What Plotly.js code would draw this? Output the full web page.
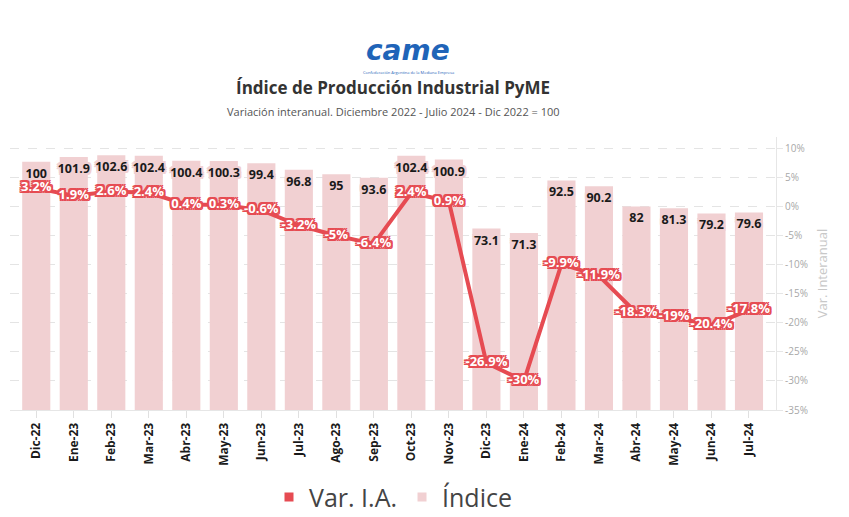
<!DOCTYPE html>
<html>
<head>
<meta charset="utf-8">
<script src="https://cdn.plot.ly/plotly-3.0.1.min.js"></script>
<style>html,body{margin:0;padding:0;background:#fff;}#chart{width:849px;height:517px;}</style>
</head>
<body>
<div id="chart"></div>
<script>
const months = ["Dic-22","Ene-23","Feb-23","Mar-23","Abr-23","May-23","Jun-23","Jul-23","Ago-23","Sep-23","Oct-23","Nov-23","Dic-23","Ene-24","Feb-24","Mar-24","Abr-24","May-24","Jun-24","Jul-24"];
const indice = [100,101.9,102.6,102.4,100.4,100.3,99.4,96.8,95,93.6,102.4,100.9,73.1,71.3,92.5,90.2,82,81.3,79.2,79.6];
const varIA = [3.2,1.9,2.6,2.4,0.4,0.3,-0.6,-3.2,-5,-6.4,2.4,0.9,-26.9,-30,-9.9,-11.9,-18.3,-19,-20.4,-17.8];
const rightTicks = [10,5,0,-5,-10,-15,-20,-25,-30,-35];
const rightTickText = ["10%","5%","0%","-5%","-10%","-15%","-20%","-25%","-30%","-35%"];

const RED = '#e64b52';
const PINK = '#f1d0d2';
const sh = (c,w) => `-${w}px -${w}px 0 ${c}, ${w}px -${w}px 0 ${c}, -${w}px ${w}px 0 ${c}, ${w}px ${w}px 0 ${c}, 0 ${w}px 0 ${c}, 0 -${w}px 0 ${c}, ${w}px 0 0 ${c}, -${w}px 0 0 ${c}`;

const traces = [
  {type:'bar', x:months, y:indice, name:'Índice', marker:{color:PINK}, yaxis:'y', hoverinfo:'skip', showlegend:false,
   text:indice.map(v=>String(v)), textposition:'inside', insidetextanchor:'end', constraintext:'none', cliponaxis:false,
   textangle:0,
   insidetextfont:{family:'Open Sans, sans-serif', size:12.5, color:'#1a1a1a', weight:700, shadow:sh(PINK,2)}},
  {type:'scatter', mode:'lines+text', x:months, y:varIA, name:'Var. I.A.', yaxis:'y2', line:{color:RED, width:4},
   text:varIA.map(v=>v+'%'), textposition:'middle center',
   textfont:{family:'Open Sans, sans-serif', size:13, color:'#ffffff', weight:700, shadow:sh(RED,2)}, showlegend:false, cliponaxis:false},
  {type:'scatter', mode:'markers', x:[null], y:[null], name:'Var. I.A.', yaxis:'y2', marker:{symbol:'square', color:RED, size:9}},
  {type:'scatter', mode:'markers', x:[null], y:[null], name:'Índice', yaxis:'y2', marker:{symbol:'square', color:PINK, size:9}}
];

const layout = {
  width:849, height:517,
  margin:{l:10, r:73, t:137, b:107, autoexpand:false},
  paper_bgcolor:'#ffffff', plot_bgcolor:'#ffffff',
  font:{family:'Open Sans, sans-serif'},
  bargap:0.25,
  xaxis:{type:'category', range:[-0.7,19.72], tickangle:-90, tickfont:{size:12, color:'#1a1a1a', weight:700}, automargin:false,
    showline:true, linecolor:'#e6e6e6', ticks:'outside', ticklen:7, tickcolor:'#e0e0e0', showgrid:false, fixedrange:true},
  yaxis:{range:[0,110], visible:false, showgrid:false, zeroline:false},
  yaxis2:{overlaying:'y', side:'right', range:[-35,12], tickvals:rightTicks, ticktext:rightTickText, automargin:false,
    tickfont:{size:10, color:'#a8a8a8'}, showgrid:true, gridcolor:'#e4e4e4', griddash:'dash', zeroline:false,
    showline:true, linecolor:'#e6e6e6', ticks:'outside', ticklen:6, tickcolor:'#e6e6e6',
    title:{text:'Var. Interanual', font:{size:13, color:'#c8c8c8'}, standoff:10}},
  showlegend:true,
  legend:{orientation:'h', x:0.5, xanchor:'center', yref:'container', y:0.038, yanchor:'middle', bgcolor:'rgba(0,0,0,0)',
    font:{size:25, color:'#444'}, itemwidth:30, tracegroupgap:0},
  annotations:[
    {xref:'paper', yref:'paper', x:0.5, y:1, xanchor:'center', yanchor:'bottom', yshift:36, showarrow:false,
     text:'<b>Índice de Producción Industrial PyME</b>', font:{size:17, color:'#333'}},
    {xref:'paper', yref:'paper', x:0.5, y:1, xanchor:'center', yanchor:'bottom', yshift:16, showarrow:false,
     text:'Variación interanual. Diciembre 2022 - Julio 2024 - Dic 2022 = 100', font:{size:11, color:'#555'}},
    {xref:'paper', yref:'paper', x:0.5, y:1, xanchor:'center', yanchor:'bottom', yshift:68, xshift:15, showarrow:false,
     text:'<b><i>came</i></b>', font:{family:'DejaVu Sans, sans-serif', size:28, color:'#1f64b8'}},
    {xref:'paper', yref:'paper', x:0.5, y:1, xanchor:'center', yanchor:'bottom', yshift:60, xshift:15, showarrow:false,
     text:'Confederación Argentina de la Mediana Empresa', font:{size:4, color:'#1f64b8'}}
  ]
};

Plotly.newPlot('chart', traces, layout, {displayModeBar:false, staticPlot:true});
</script>
</body>
</html>
